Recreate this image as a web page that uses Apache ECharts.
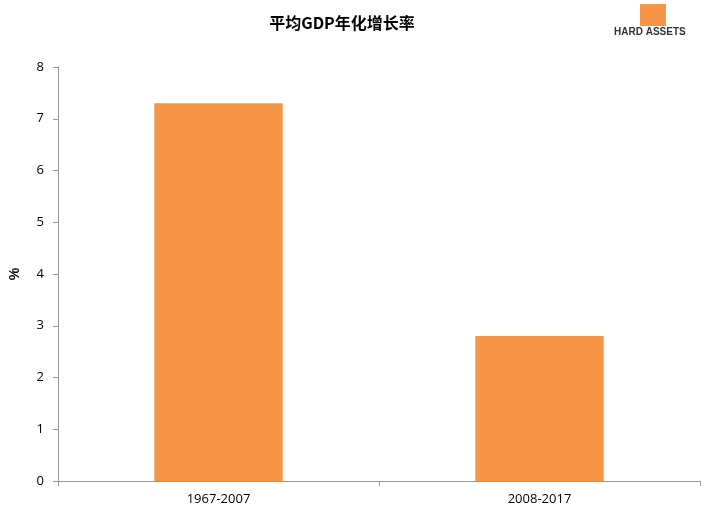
<!DOCTYPE html>
<html>
<head>
<meta charset="utf-8">
<script src="https://cdn.jsdelivr.net/npm/echarts@6/dist/echarts.min.js"></script>
<style>html,body{margin:0;padding:0;background:#fff}#main{width:718px;height:526px}</style>
</head>
<body>
<div id="main"></div>
<script>
var categories = ['1967-2007', '2008-2017'];
var growth = [7.3, 2.8];
var yTicks = [0, 8, 1];

var chart = echarts.init(document.getElementById('main'));
chart.setOption({
    title: {
        text: '平均GDP年化增长率',
        left: 337, top: 10, textAlign: 'center',
        textStyle: {fontFamily: 'Noto Sans CJK SC', fontSize: 16, fontWeight: 'bold', color: '#000'}
    },
    graphic: [
        {type: 'rect', left: 640, top: 4, shape: {width: 26, height: 22}, style: {fill: '#F79646'}},
        {type: 'text', left: 614, top: 27, style: {text: 'HARD ASSETS', font: 'bold 10px Liberation Sans', fill: '#333'}}
    ],
    grid: {left: 58, right: 18, top: 67, bottom: 45},
    xAxis: {
        type: 'category', data: categories,
        axisLine: {lineStyle: {color: '#999'}},
        axisTick: {show: true, lineStyle: {color: '#999'}},
        axisLabel: {color: '#000', fontSize: 13, fontFamily: 'Open Sans', margin: 12}
    },
    yAxis: {
        type: 'value', min: yTicks[0], max: yTicks[1], interval: yTicks[2],
        name: '%', nameLocation: 'middle', nameGap: 36, nameRotate: 90,
        nameTextStyle: {color: '#000', fontSize: 14, fontWeight: 'bold'},
        axisLine: {show: true, lineStyle: {color: '#999'}},
        axisTick: {show: true, lineStyle: {color: '#999'}},
        splitLine: {show: false},
        axisLabel: {color: '#000', fontSize: 13, fontFamily: 'Open Sans', margin: 14}
    },
    series: [{
        type: 'bar', data: growth, barWidth: '40%',
        itemStyle: {color: '#F79646'}
    }]
});
</script>
</body>
</html>
